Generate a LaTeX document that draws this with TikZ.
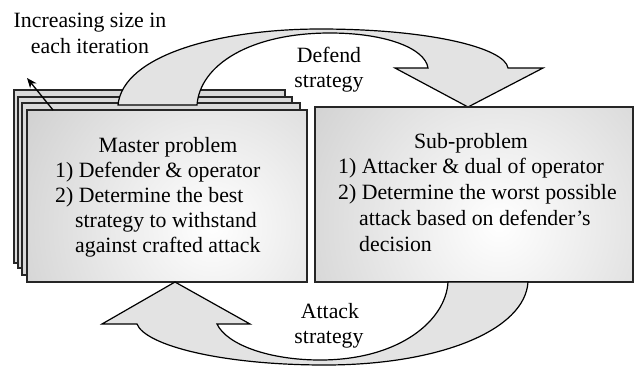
\documentclass[tikz,border=0pt]{standalone}
\usepackage{fontspec}
\setmainfont{Liberation Serif}
\usetikzlibrary{arrows.meta,calc}
\begin{document}
\begin{tikzpicture}[x=1pt,y=-1pt,
  txt/.style={inner sep=0pt,anchor=base west,font=\fontsize{21.8}{25}\selectfont},
  ctxt/.style={inner sep=0pt,anchor=base,font=\fontsize{21.8}{25}\selectfont},
  backbox/.style={draw=black!85,line width=1.3pt,fill=gray!30},
  blockarrow/.style={draw=black,line width=1.2pt,fill=gray!22},
  frontbox/.style={draw=black!85,line width=1.3pt}]
\useasboundingbox (0,0) rectangle (635,368);
% stacked back boxes
\draw[backbox] (14,90) rectangle (285,263);
\draw[backbox] (18,97) rectangle (292,268);
\draw[backbox] (22,103) rectangle (300,275);
% top curved arrow (defend strategy)
\draw[blockarrow] (118,105) .. controls (123,55) and (220,29) .. (320,29)
  .. controls (430,29) and (505,48) .. (508,68)
  -- (543,68) -- (468,107) -- (395,68) -- (428,68)
  .. controls (425,48) and (385,33) .. (330,33)
  .. controls (250,33) and (200,65) .. (197,105) -- cycle;
% front master box
\coordinate (mA) at (27,110);
\coordinate (mB) at (307,282);
\path[frontbox,path picture={\shade[inner color=white,outer color=gray!38]
  ($(path picture bounding box.center)+(45,30)$) circle (230);}]
  (mA) rectangle (mB);
% sub box
\path[frontbox,path picture={\shade[inner color=white,outer color=gray!38]
  ($(path picture bounding box.center)+(25,30)$) circle (240);}]
  (315,107) rectangle (633,282);
% bottom curved arrow (attack strategy)
\draw[blockarrow] (528,282) .. controls (525,330) and (440,365) .. (325,365)
  .. controls (220,365) and (145,345) .. (137,324)
  -- (102,324) -- (175,282) -- (250,324) -- (217,324)
  .. controls (227,345) and (270,360) .. (320,360)
  .. controls (400,360) and (446,320) .. (448,282) -- cycle;
% master text
\node[ctxt] (mt) at (168,152) {Master problem};
\node[txt] (m1) at (55,177) {1) Defender \& operator};
\node[txt] (m2) at (55,202) {2) Determine the best};
\node[txt] (m3) at (75,227) {strategy to withstand};
\node[txt] (m4) at (75,252) {against crafted attack};
% sub text
\node[ctxt] (st) at (471,148) {Sub-problem};
\node[txt] (s1) at (338,173.5) {1) Attacker \& dual of operator};
\node[txt] (s2) at (338,199) {2) Determine the worst possible};
\node[txt] (s3) at (359,225) {attack based on defender’s};
\node[txt] (s4) at (359,251) {decision};
% labels
\node[ctxt] (inc1) at (90,27) {Increasing size in};
\node[ctxt] (inc2) at (90,53) {each iteration};
\node[ctxt] (d1) at (329,62) {Defend};
\node[ctxt] (d2) at (329,87) {strategy};
\node[ctxt] (a1) at (330,318) {Attack};
\node[ctxt] (a2) at (329,343) {strategy};
% growth arrow
\coordinate (gtail) at (53,110);
\coordinate (ghead) at (27,78);
\draw[line width=1.3pt,-{Stealth[length=10pt,width=8pt]}] (gtail) -- (ghead);
\end{tikzpicture}
\end{document}
